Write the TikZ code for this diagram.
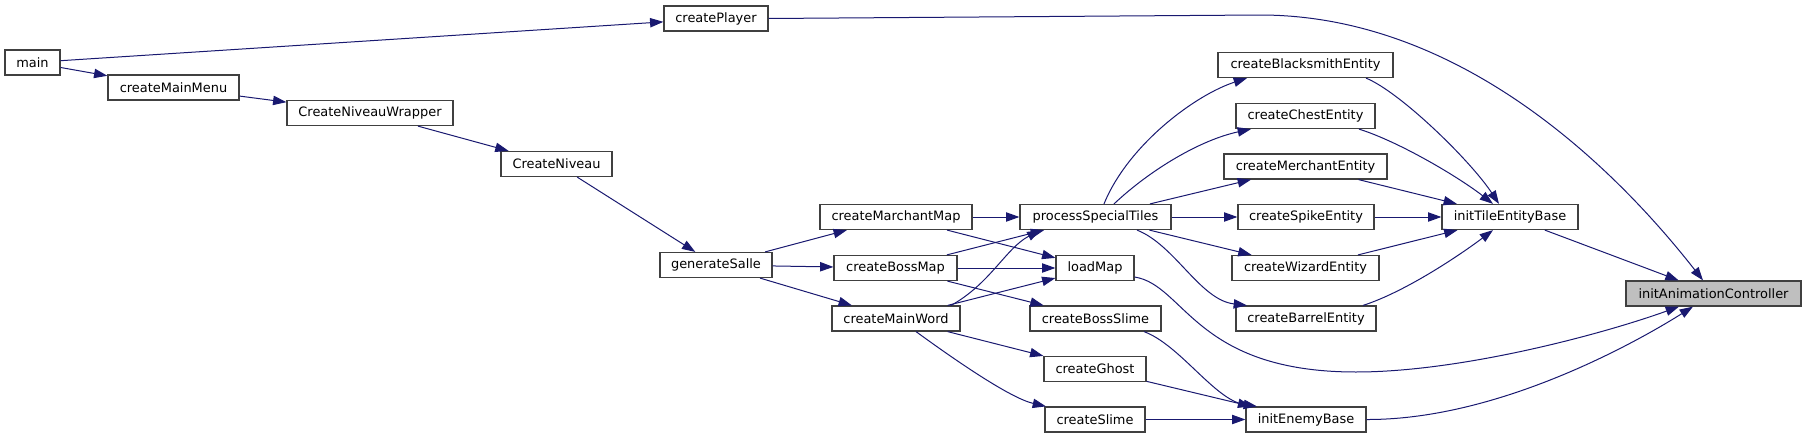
\documentclass[tikz,border=0pt]{standalone}
\usepackage{fontspec}
\setmainfont{DejaVu Sans}
\usetikzlibrary{arrows.meta, calc}
\definecolor{edgeblue}{HTML}{191970}
\definecolor{boxline}{HTML}{404040}
\definecolor{rootfill}{HTML}{BFBFBF}

\begin{document}
\begin{tikzpicture}[x=0.75pt, y=-0.75pt, >={Triangle[length=10pt,width=7pt]},
  fn/.style={draw=boxline, line width=0.9pt, fill=white, minimum height=18.75pt,
    inner sep=0pt, font=\fontsize{9.7}{11}\selectfont},
  call/.style={->, edgeblue, line width=0.75pt}]
  \useasboundingbox (0,0) rectangle (1807,439);
  % functions: name/x/y/width/label
  \foreach \nm/\x/\y/\bw/\lab in {main/32.5/62.5/55/main, cplayer/716/18.5/104/createPlayer,
      cmenu/173.5/87.5/131/createMainMenu, cnwrap/370/113/166/CreateNiveauWrapper,
      cniveau/556.5/164/111/CreateNiveau, gsalle/716/265/112/generateSalle,
      cmmap/896/217/152/createMarchantMap, cbmap/895.5/268/123/createBossMap,
      cmword/896/318.5/128/createMainWord, pstiles/1095.5/217/151/processSpecialTiles,
      lmap/1095/268/78/loadMap, cbslime/1095.5/318.5/131/createBossSlime,
      cghost/1095/369/102/createGhost, cslime/1095/419.5/100/createSlime,
      cbsmith/1305.5/65/175/createBlacksmithEntity, cchest/1305.5/116/139/createChestEntity,
      cmerch/1305.5/166.5/163/createMerchantEntity, cspike/1306/217/136/createSpikeEntity,
      cwizard/1305.5/268/147/createWizardEntity, cbarrel/1306/318.5/140/createBarrelEntity,
      itile/1510/217/136/initTileEntityBase, ienemy/1306/419.5/120/initEnemyBase}{
    \node[fn, minimum width=\bw*0.75pt] (\nm) at (\x,\y) {\lab};
  }
  \node[fn, fill=rootfill, minimum width=131.25pt] (ianim) at (1713.5,293.5) {initAnimationController};

  % straight calls
  \foreach \a/\b in {main/cplayer, main/cmenu, cmenu/cnwrap, cnwrap/cniveau, cniveau/gsalle,
      gsalle/cmmap, gsalle/cbmap, gsalle/cmword, cmmap/pstiles, cmmap/lmap, cbmap/pstiles,
      cbmap/lmap, cbmap/cbslime, cmword/lmap, cmword/cghost, pstiles/cmerch, pstiles/cspike,
      pstiles/cwizard, cmerch/itile, cspike/itile, cwizard/itile, itile/ianim,
      cghost/ienemy, cslime/ienemy}{
    \draw[call] (\a) -- (\b);
  }
  % curved calls
  \draw[call] ($(cmword.north)+(55,0)$) .. controls (990,284) and (1006,248) .. ($(pstiles.south)+(-55,0)$);
  \draw[call] ($(cmword.south)+(20,0)$) .. controls (955,360) and (1010,398) .. ($(cslime.north)+(-49,0)$);
  \draw[call] ($(pstiles.north)+(8.5,0)$) .. controls (1128,145) and (1195,95) .. ($(cbsmith.south)+(-58.5,0)$);
  \draw[call] ($(pstiles.north)+(18.5,0)$) .. controls (1150,170) and (1200,140) .. ($(cchest.south)+(-54.5,0)$);
  \draw[call] ($(pstiles.south)+(41.5,0)$) .. controls (1175,245) and (1200,300) .. ($(cbarrel.north)+(-59,0)$);
  \draw[call] ($(cbsmith.south)+(60.5,0)$) .. controls (1400,92) and (1470,160) .. ($(itile.north)+(-11,0)$);
  \draw[call] ($(cchest.south)+(53.5,0)$) .. controls (1400,142) and (1460,178) .. ($(itile.north)+(-17,0)$);
  \draw[call] ($(cbarrel.north)+(57,0)$) .. controls (1405,292) and (1460,255) .. ($(itile.south)+(-17,0)$);
  \draw[call] ($(cbslime.south)+(48.5,0)$) .. controls (1180,345) and (1215,400) .. ($(ienemy.north)+(-49,0)$);
  \draw[call] (cplayer.east) -- (1260,15) .. controls (1480,15) and (1640,200) .. ($(ianim.north)+(-10.5,0)$);
  \draw[call] ($(lmap.east)+(0,9)$) .. controls (1185,285) and (1195,372) .. (1356,372)
    .. controls (1460,372) and (1600,335) .. ($(ianim.south)+(-34.5,0)$);
  \draw[call] (ienemy.east) .. controls (1500,420) and (1640,340) .. ($(ianim.south)+(-20.5,0)$);
\end{tikzpicture}
\end{document}
